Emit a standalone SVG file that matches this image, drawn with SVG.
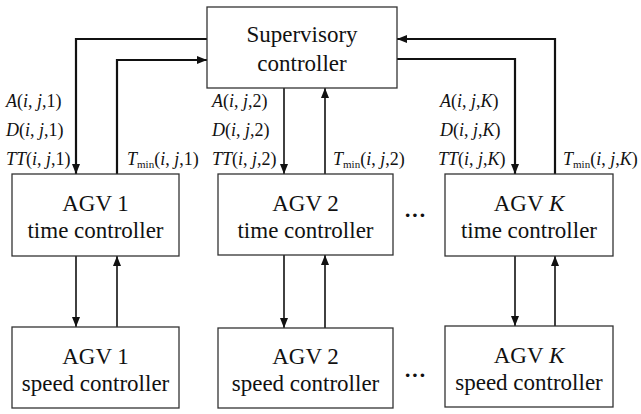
<svg xmlns="http://www.w3.org/2000/svg" width="641" height="414" viewBox="0 0 641 414">
<defs>
<style>
.box{fill:#fff;stroke:#333;stroke-width:1.3}
.t{font-family:'Liberation Serif','DejaVu Serif',serif;font-size:23px;fill:#111;text-anchor:middle}
.l{font-family:'Liberation Serif','DejaVu Serif',serif;font-size:18px;fill:#111}
.i{font-style:italic}
.sub{font-size:11px}
.c{fill:none;stroke:#111;stroke-width:1.6}
.h{stroke-width:2.2}
.d{font-family:'Liberation Serif','DejaVu Serif',serif;font-size:22px;font-weight:bold;fill:#111}
</style>
<marker id="ah" markerUnits="userSpaceOnUse" markerWidth="10" markerHeight="10" viewBox="0 0 10 10" refX="10" refY="5" orient="auto">
<path d="M0,1 L10,5 L0,9 Z" fill="#111"/>
</marker>
</defs>
<rect width="641" height="414" fill="#fff"/>
<g id="connectors">
<path class="c h" d="M207,39 H76 V174" marker-end="url(#ah)"/>
<path class="c h" d="M117,174 V60 H207" marker-end="url(#ah)"/>
<path class="c" d="M284,88 V174" marker-end="url(#ah)"/>
<path class="c" d="M325,174 V88" marker-end="url(#ah)"/>
<path class="c h" d="M397,59 H515 V174" marker-end="url(#ah)"/>
<path class="c h" d="M555,174 V39 H397" marker-end="url(#ah)"/>
<path class="c" d="M76,256 V327" marker-end="url(#ah)"/>
<path class="c" d="M117,327 V256" marker-end="url(#ah)"/>
<path class="c" d="M284,255 V328" marker-end="url(#ah)"/>
<path class="c" d="M325,328 V255" marker-end="url(#ah)"/>
<path class="c" d="M515,256 V326" marker-end="url(#ah)"/>
<path class="c" d="M555,326 V256" marker-end="url(#ah)"/>
</g>
<g id="supervisory">
<rect class="box" x="207" y="7" width="190" height="81"/>
<text class="t" x="302" y="42">Supervisory</text>
<text class="t" x="302" y="71">controller</text>
</g>
<g id="time1">
<rect class="box" x="12" y="174" width="167" height="82"/>
<text class="t" x="95.5" y="211">AGV 1</text>
<text class="t" x="95.5" y="238">time controller</text>
</g>
<g id="time2">
<rect class="box" x="218" y="174" width="175" height="81"/>
<text class="t" x="305.5" y="211">AGV 2</text>
<text class="t" x="305.5" y="238">time controller</text>
</g>
<g id="timeK">
<rect class="box" x="445" y="174" width="168" height="82"/>
<text class="t" x="529" y="211">AGV <tspan class="i">K</tspan></text>
<text class="t" x="529" y="238">time controller</text>
</g>
<g id="speed1">
<rect class="box" x="12" y="327" width="167" height="81"/>
<text class="t" x="95.5" y="364">AGV 1</text>
<text class="t" x="95.5" y="391">speed controller</text>
</g>
<g id="speed2">
<rect class="box" x="218" y="328" width="175" height="80"/>
<text class="t" x="305.5" y="364">AGV 2</text>
<text class="t" x="305.5" y="391">speed controller</text>
</g>
<g id="speedK">
<rect class="box" x="445" y="326" width="168" height="81"/>
<text class="t" x="529" y="363">AGV <tspan class="i">K</tspan></text>
<text class="t" x="529" y="390">speed controller</text>
</g>
<g id="labels">
<text class="l" x="6" y="107"><tspan class="i">A</tspan>(<tspan class="i">i</tspan>, <tspan class="i">j</tspan>,1)</text>
<text class="l" x="6" y="136"><tspan class="i">D</tspan>(<tspan class="i">i</tspan>, <tspan class="i">j</tspan>,1)</text>
<text class="l" x="6" y="165"><tspan class="i">TT</tspan>(<tspan class="i">i</tspan>, <tspan class="i">j</tspan>,1)</text>
<text class="l" x="127" y="165"><tspan class="i">T</tspan><tspan class="sub" dy="3">min</tspan><tspan dy="-3">(</tspan><tspan class="i">i</tspan>, <tspan class="i">j</tspan>,1)</text>
<text class="l" x="212" y="107"><tspan class="i">A</tspan>(<tspan class="i">i</tspan>, <tspan class="i">j</tspan>,2)</text>
<text class="l" x="212" y="136"><tspan class="i">D</tspan>(<tspan class="i">i</tspan>, <tspan class="i">j</tspan>,2)</text>
<text class="l" x="212" y="165"><tspan class="i">TT</tspan>(<tspan class="i">i</tspan>, <tspan class="i">j</tspan>,2)</text>
<text class="l" x="333" y="165"><tspan class="i">T</tspan><tspan class="sub" dy="3">min</tspan><tspan dy="-3">(</tspan><tspan class="i">i</tspan>, <tspan class="i">j</tspan>,2)</text>
<text class="l" x="440" y="107"><tspan class="i">A</tspan>(<tspan class="i">i</tspan>, <tspan class="i">j</tspan>,<tspan class="i">K</tspan>)</text>
<text class="l" x="440" y="136"><tspan class="i">D</tspan>(<tspan class="i">i</tspan>, <tspan class="i">j</tspan>,<tspan class="i">K</tspan>)</text>
<text class="l" x="438" y="165"><tspan class="i">TT</tspan>(<tspan class="i">i</tspan>, <tspan class="i">j</tspan>,<tspan class="i">K</tspan>)</text>
<text class="l" x="563" y="165"><tspan class="i">T</tspan><tspan class="sub" dy="3">min</tspan><tspan dy="-3">(</tspan><tspan class="i">i</tspan>, <tspan class="i">j</tspan>,<tspan class="i">K</tspan>)</text>
<text class="d" x="404" y="222">···</text>
<text class="d" x="404" y="382">···</text>
</g>
</svg>
